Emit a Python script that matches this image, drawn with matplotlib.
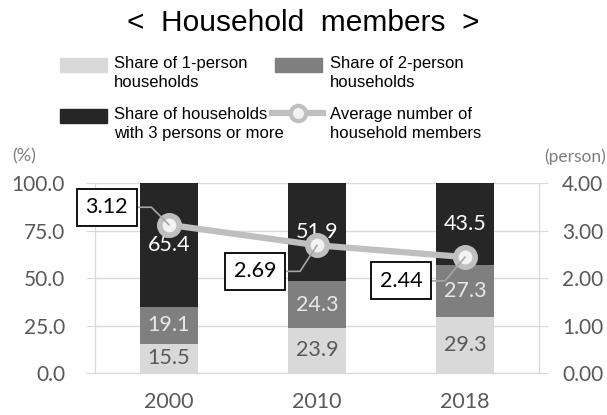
import matplotlib
matplotlib.use("Agg")
import matplotlib.pyplot as plt
from matplotlib.patches import Rectangle
from matplotlib.lines import Line2D
import numpy as np

years = ["2000", "2010", "2018"]
one_person = [15.5, 23.9, 29.3]
two_person = [19.1, 24.3, 27.3]
three_plus = [65.4, 51.9, 43.5]
avg_members = [3.12, 2.69, 2.44]

# offsets of the value boxes (x in category units, y in persons)
box_pos = [(-0.42, 3.49), (0.58, 2.14), (1.57, 1.94)]
leader_angle = [135, 57, 50]

c1, c2, c3 = "#d9d9d9", "#7f7f7f", "#262626"
line_c = "#bfbfbf"
grid_c = "#d9d9d9"
tick_font = "Lato"
leg_font = "Liberation Sans"

fig = plt.figure(figsize=(6.07, 4.15), dpi=100)
ax = fig.add_axes([0.1565, 0.1012, 0.7315, 0.4578])
ax2 = ax.twinx()

x = np.arange(len(years))
w = 0.39
b1 = ax.bar(x, one_person, w, color=c1, zorder=2)
b2 = ax.bar(x, two_person, w, bottom=one_person, color=c2, zorder=2)
bottom3 = np.array(one_person) + np.array(two_person)
b3 = ax.bar(x, three_plus, w, bottom=bottom3, color=c3, zorder=2)

ax.bar_label(b1, labels=[f"{v:.1f}" for v in one_person], label_type="center",
             color="#595959", fontsize=15.5, family=tick_font)
ax.bar_label(b2, labels=[f"{v:.1f}" for v in two_person], label_type="center",
             color="#e8e8e8", fontsize=15.5, family=tick_font)
ax.bar_label(b3, labels=[f"{v:.1f}" for v in three_plus], label_type="center",
             color="white", fontsize=15.5, family=tick_font)

ax.set_xlim(-0.5, 2.5)
ax.set_ylim(0, 100)
ax.set_yticks([0, 25, 50, 75, 100])
ax.set_yticklabels([f"{v:.1f}" for v in [0, 25, 50, 75, 100]])
ax.set_xticks(x)
ax.set_xticklabels(years)
ax.yaxis.grid(True, color=grid_c, linewidth=1, zorder=0)
ax.set_axisbelow(True)

ax2.set_ylim(0, 4)
ax2.set_yticks([0, 1, 2, 3, 4])
ax2.set_yticklabels([f"{v:.2f}" for v in [0, 1, 2, 3, 4]])
ax2.plot(x, avg_members, color=line_c, linewidth=4.5, marker="o", markersize=14,
         markerfacecolor="#f2f2f2", markeredgecolor=line_c, markeredgewidth=4, zorder=3)

for i, v in enumerate(avg_members):
    bx, by = box_pos[i]
    ax2.annotate(f"{v:.2f}", xy=(x[i], v), xytext=(bx, by), textcoords="data",
                 ha="center", va="center", fontsize=15.5, family=tick_font, color="black",
                 bbox=dict(boxstyle="square,pad=0.4", fc="white", ec="black", lw=1.3),
                 arrowprops=dict(arrowstyle="-", color="#a6a6a6", lw=1.2,
                                 shrinkA=0, shrinkB=0, relpos=(1, 0.5),
                                 connectionstyle=f"angle,angleA=0,angleB={leader_angle[i]},rad=0"),
                 zorder=5)

for a in (ax, ax2):
    for s in a.spines.values():
        s.set_color(grid_c)
    a.spines["top"].set_visible(False)
    a.tick_params(axis="y", length=6.5, color=grid_c, labelcolor="#595959", labelsize=15)
    for lab in a.get_yticklabels():
        lab.set_family(tick_font)
ax.tick_params(axis="y", pad=15)
ax2.tick_params(axis="y", pad=10)
ax.tick_params(axis="x", length=0, labelcolor="#595959", labelsize=15.5, pad=14)
for lab in ax.get_xticklabels():
    lab.set_family(tick_font)

fig.text(0.5, 0.925, "<  Household  members  >", ha="center", va="baseline",
         fontsize=21.5, family=leg_font, color="black")
fig.text(0.02, 0.622, "(%)", ha="left", va="center", fontsize=13,
         family=tick_font, color="#7f7f7f")
fig.text(0.999, 0.622, "(person)", ha="right", va="center", fontsize=12.5,
         family=tick_font, color="#7f7f7f")

# legend drawn by hand so the keys line up with the first text line
W, H = 607.0, 415.0
def fx(px):
    return px / W
def fy(py):
    return 1 - py / H

leg_items = [
    ("patch", c1, 60, 114, 58, "Share of 1-person\nhouseholds"),
    ("patch", c2, 275, 330, 58, "Share of 2-person\nhouseholds"),
    ("patch", c3, 60, 114, 109, "Share of households\nwith 3 persons or more"),
    ("line", line_c, 272, 330, 109, "Average number of\nhousehold members"),
]
for kind, col, kx, tx, ky, text in leg_items:
    if kind == "patch":
        fig.add_artist(Rectangle((fx(kx), fy(ky + 14)), 47 / W, 14 / H,
                                 transform=fig.transFigure, color=col))
    else:
        fig.add_artist(Line2D([fx(kx), fx(kx + 51)], [fy(ky + 4)] * 2,
                              transform=fig.transFigure, color=col, linewidth=4.5))
        fig.add_artist(Line2D([fx(kx + 25.5)], [fy(ky + 4)], transform=fig.transFigure,
                              marker="o", markersize=11, markerfacecolor="#f2f2f2",
                              markeredgecolor=col, markeredgewidth=3))
    fig.text(fx(tx), fy(ky - 2), text, ha="left", va="top", fontsize=12,
             family=leg_font, color="black", linespacing=1.3)

fig.savefig("out.png", dpi=100)
